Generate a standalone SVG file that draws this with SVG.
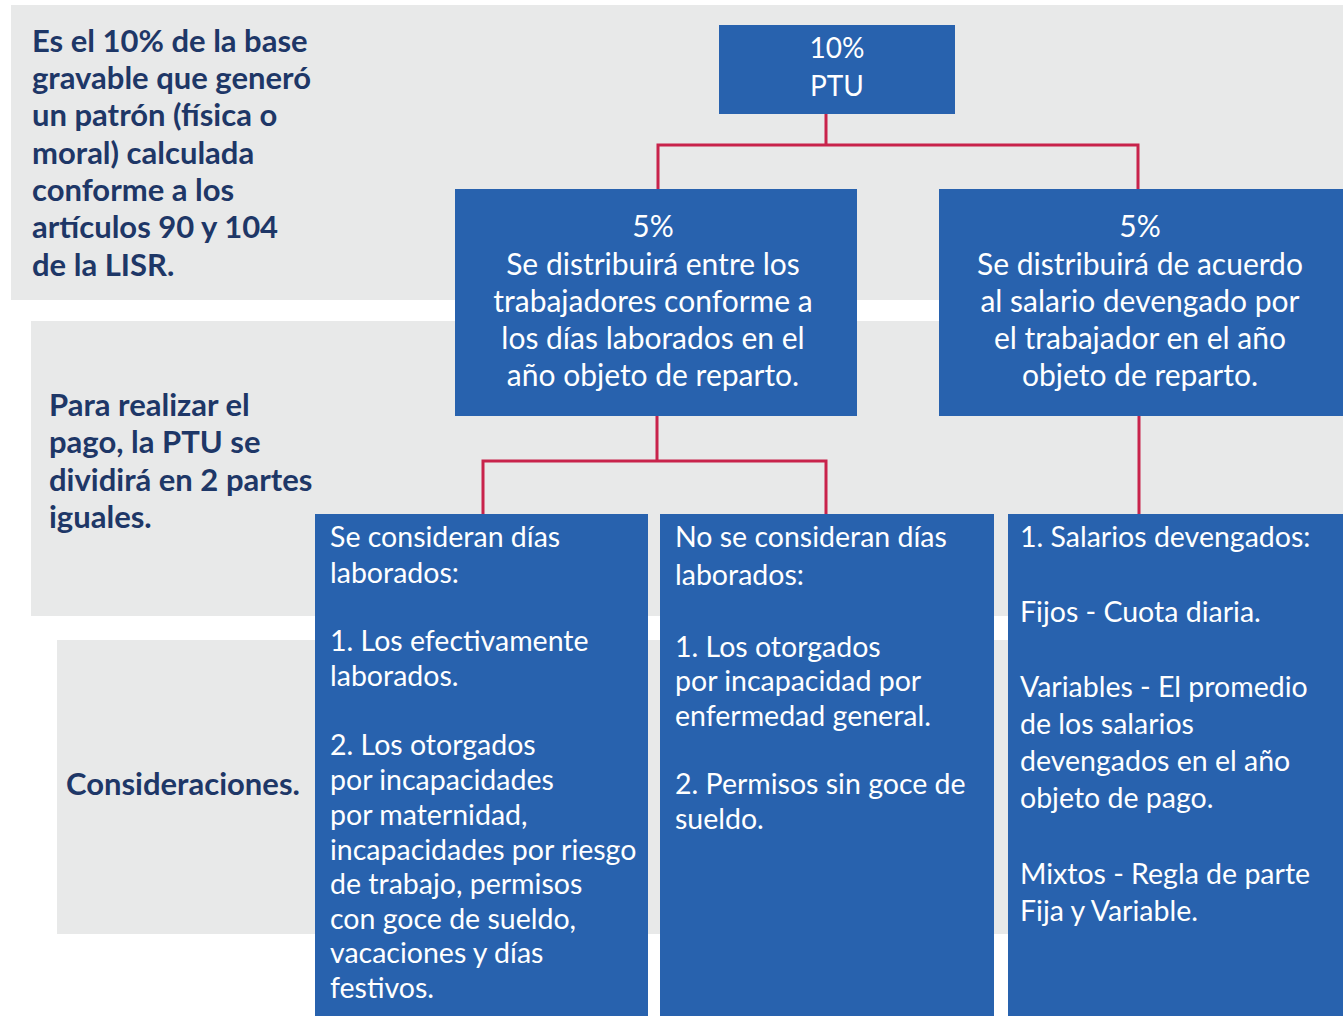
<svg xmlns="http://www.w3.org/2000/svg" width="1343" height="1016" viewBox="0 0 1343 1016">
<style>
.band{fill:#e8e9e9}
.box{fill:#2862ae}
.wt{fill:#ffffff;font-family:Lato,"Liberation Sans",sans-serif;font-size:28.5px}
.wm{font-size:30px}
.wp{font-size:28px}
.wc{text-anchor:middle}
.nv{fill:#1e3767;font-family:Lato,"Liberation Sans",sans-serif;font-size:31px;font-weight:bold}
.con{fill:none;stroke:#c8234b;stroke-width:3}
</style>
<rect x="0" y="0" width="1343" height="1016" fill="#ffffff"/>
<g id="bands">
<rect class="band" x="11" y="5" width="1332" height="295"/>
<rect class="band" x="31" y="321" width="1312" height="295"/>
<rect class="band" x="57" y="640" width="1286" height="294"/>
</g>
<g id="note-base">
<text class="nv" x="32" y="52">Es el 10% de la base</text>
<text class="nv" x="32" y="89">gravable que generó</text>
<text class="nv" x="32" y="126">un patrón (física o</text>
<text class="nv" x="32" y="164">moral) calculada</text>
<text class="nv" x="32" y="201">conforme a los</text>
<text class="nv" x="32" y="238">artículos 90 y 104</text>
<text class="nv" x="32" y="276">de la LISR.</text>
</g>
<g id="note-pago">
<text class="nv" x="49" y="416">Para realizar el</text>
<text class="nv" x="49" y="453">pago, la PTU se</text>
<text class="nv" x="49" y="491">dividirá en 2 partes</text>
<text class="nv" x="49" y="528">iguales.</text>
</g>
<g id="note-consideraciones">
<text class="nv" x="66" y="795">Consideraciones.</text>
</g>
<g id="connectors">
<path class="con" d="M826,113 V145 H658 V189 M826,145 H1138 V189"/>
<path class="con" d="M657,416 V461 H483 V514 M657,461 H826 V514"/>
<path class="con" d="M1139,416 V514"/>
</g>
<g id="node-ptu">
<rect class="box" x="719" y="25" width="236" height="89"/>
<text class="wt wp wc" x="837" y="58">10%</text>
<text class="wt wp wc" x="837" y="96">PTU</text>
</g>
<g id="node-dias">
<rect class="box" x="455" y="189" width="402" height="227"/>
<text class="wt wm wc" x="653" y="237">5%</text>
<text class="wt wm wc" x="653" y="275">Se distribuirá entre los</text>
<text class="wt wm wc" x="653" y="312">trabajadores conforme a</text>
<text class="wt wm wc" x="653" y="349">los días laborados en el</text>
<text class="wt wm wc" x="653" y="386">año objeto de reparto.</text>
</g>
<g id="node-salario">
<rect class="box" x="939" y="189" width="404" height="227"/>
<text class="wt wm wc" x="1140" y="237">5%</text>
<text class="wt wm wc" x="1140" y="275">Se distribuirá de acuerdo</text>
<text class="wt wm wc" x="1140" y="312">al salario devengado por</text>
<text class="wt wm wc" x="1140" y="349">el trabajador en el año</text>
<text class="wt wm wc" x="1140" y="386">objeto de reparto.</text>
</g>
<g id="node-consideran">
<rect class="box" x="315" y="514" width="333" height="502"/>
<text class="wt" x="330" y="547">Se consideran días</text>
<text class="wt" x="330" y="583">laborados:</text>
<text class="wt" x="330" y="651">1. Los efectivamente</text>
<text class="wt" x="330" y="686">laborados.</text>
<text class="wt" x="330" y="755">2. Los otorgados</text>
<text class="wt" x="330" y="790">por incapacidades</text>
<text class="wt" x="330" y="825">por maternidad,</text>
<text class="wt" x="330" y="860">incapacidades por riesgo</text>
<text class="wt" x="330" y="894">de trabajo, permisos</text>
<text class="wt" x="330" y="929">con goce de sueldo,</text>
<text class="wt" x="330" y="963">vacaciones y días</text>
<text class="wt" x="330" y="998">festivos.</text>
</g>
<g id="node-no-consideran">
<rect class="box" x="660" y="514" width="334" height="502"/>
<text class="wt" x="675" y="547">No se consideran días</text>
<text class="wt" x="675" y="585">laborados:</text>
<text class="wt" x="675" y="657">1. Los otorgados</text>
<text class="wt" x="675" y="691">por incapacidad por</text>
<text class="wt" x="675" y="726">enfermedad general.</text>
<text class="wt" x="675" y="794">2. Permisos sin goce de</text>
<text class="wt" x="675" y="829">sueldo.</text>
</g>
<g id="node-salarios">
<rect class="box" x="1008" y="514" width="335" height="502"/>
<text class="wt" x="1020" y="547">1. Salarios devengados:</text>
<text class="wt" x="1020" y="622">Fijos - Cuota diaria.</text>
<text class="wt" x="1020" y="697">Variables - El promedio</text>
<text class="wt" x="1020" y="734">de los salarios</text>
<text class="wt" x="1020" y="771">devengados en el año</text>
<text class="wt" x="1020" y="808">objeto de pago.</text>
<text class="wt" x="1020" y="884">Mixtos - Regla de parte</text>
<text class="wt" x="1020" y="921">Fija y Variable.</text>
</g>
</svg>
